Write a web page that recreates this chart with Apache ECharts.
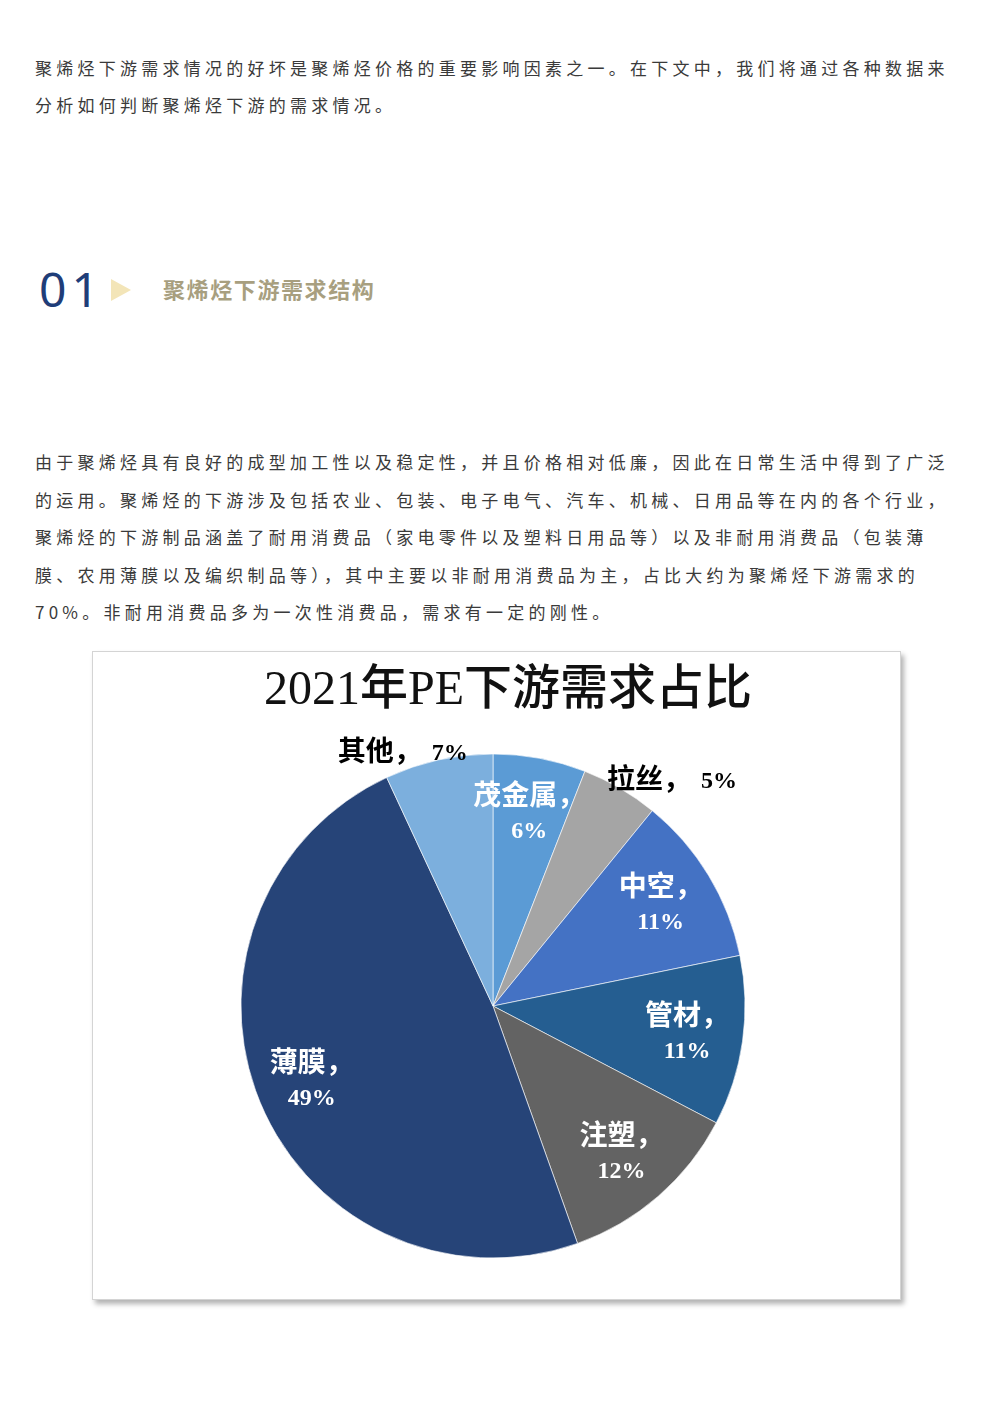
<!DOCTYPE html>
<html>
<head>
<meta charset="utf-8">
<script src="https://cdn.jsdelivr.net/npm/echarts@6/dist/echarts.min.js"></script>
<style>
  html, body { margin: 0; padding: 0; background: #fff; }
  body { width: 992px; height: 1403px; position: relative; overflow: hidden;
         font-family: "Noto Sans CJK SC", "Noto Sans", sans-serif; }
  .line { position: absolute; left: 35px; white-space: nowrap; font-size: 17px;
          line-height: 37.5px; letter-spacing: 4.25px; color: #3a3a3a; }
  .num { position: absolute; left: 39px; top: 259px; font-family: "Noto Sans", sans-serif;
         font-size: 48px; line-height: 60px; color: #1f3d78; letter-spacing: 5px; }
  .tri { position: absolute; left: 111px; top: 279px; width: 0; height: 0;
         border-top: 11px solid transparent; border-bottom: 11px solid transparent;
         border-left: 20px solid #f3e5b8; }
  .sec { position: absolute; left: 163px; top: 272px; font-size: 22px; line-height: 32px;
         font-weight: bold; color: #a89f7f; letter-spacing: 1.6px; }
  #chart { position: absolute; left: 92px; top: 651px; width: 807px; height: 647px;
           border: 1px solid #d4d4d4; background: #fff;
           box-shadow: 3px 4px 5px rgba(0, 0, 0, 0.3); }
</style>
</head>
<body>
<div class="line" style="top:49px">聚烯烃下游需求情况的好坏是聚烯烃价格的重要影响因素之一。在下文中，我们将通过各种数据来</div>
<div class="line" style="top:86px">分析如何判断聚烯烃下游的需求情况。</div>

<div class="num">01</div>
<div class="tri"></div>
<div class="sec">聚烯烃下游需求结构</div>

<div class="line" style="top:443px">由于聚烯烃具有良好的成型加工性以及稳定性，并且价格相对低廉，因此在日常生活中得到了广泛</div>
<div class="line" style="top:481px">的运用。聚烯烃的下游涉及包括农业、包装、电子电气、汽车、机械、日用品等在内的各个行业，</div>
<div class="line" style="top:518px">聚烯烃的下游制品涵盖了耐用消费品（家电零件以及塑料日用品等）以及非耐用消费品（包装薄</div>
<div class="line" style="top:556px">膜、农用薄膜以及编织制品等），其中主要以非耐用消费品为主，占比大约为聚烯烃下游需求的</div>
<div class="line" style="top:593px">70%。非耐用消费品多为一次性消费品，需求有一定的刚性。</div>

<div id="chart"></div>

<script>
// 2021年PE下游需求占比（%），从12点方向顺时针
const categories = ['茂金属', '拉丝', '中空', '管材', '注塑', '薄膜', '其他']
const shares = [6, 5, 11, 11, 12, 49, 7]

const sliceColors = ['#5b9bd5', '#a5a5a5', '#4472c4', '#255e91', '#636363', '#264478', '#7cafdd']
// 放在饼外的标签及其微调
const outsideNudge = { '拉丝': [80, -55], '其他': [-48, -61] }

const serifFont = '"Liberation Serif", "Noto Sans CJK SC", serif'
const center = [400, 354]
const radius = 252

const chart = echarts.init(document.getElementById('chart'))

const sliceData = categories.map((name, i) => ({
  name,
  value: shares[i],
  itemStyle: { color: sliceColors[i] }
}))

const labelData = categories.map((name, i) => ({
  name,
  value: shares[i],
  label: outsideNudge[name]
    ? { formatter: `{on|${name}，}{ov|${shares[i]}%}` }
    : { formatter: `{n|${name}，}\n{v|${shares[i]}%}` }
}))

chart.setOption({
  animation: false,
  title: {
    text: '2021年PE下游需求占比',
    left: 166,
    top: 10,
    textStyle: { fontFamily: serifFont, fontSize: 48, fontWeight: 500, color: '#111' }
  },
  series: [
    {
      type: 'pie',
      center,
      radius,
      startAngle: 90,
      clockwise: true,
      silent: true,
      label: { show: false },
      labelLine: { show: false },
      itemStyle: { borderColor: 'rgba(255,255,255,0.6)', borderWidth: 1 },
      data: sliceData
    },
    {
      // 透明环，仅用于放置标签
      type: 'pie',
      center,
      radius: [134, radius],
      startAngle: 90,
      clockwise: true,
      silent: true,
      itemStyle: { color: 'transparent' },
      labelLine: { show: false },
      label: {
        show: true,
        position: 'inside',
        align: 'center',
        lineHeight: 36,
        rich: {
          n: { fontFamily: serifFont, fontSize: 28, fontWeight: 'bold', color: '#fff', lineHeight: 36 },
          v: { fontFamily: serifFont, fontSize: 24, fontWeight: 'bold', color: '#fff', lineHeight: 32 },
          on: { fontFamily: serifFont, fontSize: 28, fontWeight: 'bold', color: '#000' },
          ov: { fontFamily: serifFont, fontSize: 24, fontWeight: 'bold', color: '#000', padding: [0, 0, 0, 10] }
        }
      },
      labelLayout: params => {
        const nudge = outsideNudge[categories[params.dataIndex]]
        return nudge ? { dx: nudge[0], dy: nudge[1] } : {}
      },
      data: labelData
    }
  ]
})
</script>
</body>
</html>
